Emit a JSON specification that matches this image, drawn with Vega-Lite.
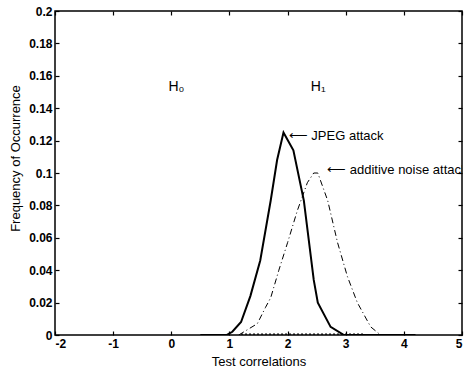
{
  "$schema": "https://vega.github.io/schema/vega-lite/v6.json",
  "width": 407,
  "height": 324,
  "autosize": "none",
  "padding": {"left": 55, "top": 11, "right": 9, "bottom": 41},
  "background": "white",
  "config": {
    "view": {"stroke": "black", "strokeWidth": 1.5},
    "font": "Liberation Sans",
    "axis": {
      "grid": false,
      "domain": false,
      "tickColor": "black",
      "tickSize": 4,
      "tickWidth": 1.2,
      "offset": -4,
      "labelOverlap": false,
      "labelColor": "black",
      "labelFont": "Liberation Sans",
      "labelFontSize": 12,
      "labelFontWeight": "bold",
      "labelPadding": 3,
      "titleColor": "black",
      "titleFont": "Liberation Sans",
      "titleFontSize": 13,
      "titleFontWeight": "normal"
    }
  },
  "resolve": {"axis": {"x": "independent", "y": "independent"}},
  "datasets": {
    "curves": [
      {"series": "jpeg", "x": 0.5, "y": 0},
      {"series": "jpeg", "x": 0.95, "y": 0},
      {"series": "jpeg", "x": 1.05, "y": 0.002},
      {"series": "jpeg", "x": 1.2, "y": 0.008},
      {"series": "jpeg", "x": 1.36, "y": 0.024},
      {"series": "jpeg", "x": 1.53, "y": 0.046},
      {"series": "jpeg", "x": 1.71, "y": 0.083},
      {"series": "jpeg", "x": 1.82, "y": 0.108},
      {"series": "jpeg", "x": 1.93, "y": 0.125},
      {"series": "jpeg", "x": 2.1, "y": 0.114},
      {"series": "jpeg", "x": 2.28, "y": 0.083},
      {"series": "jpeg", "x": 2.45, "y": 0.034},
      {"series": "jpeg", "x": 2.52, "y": 0.02},
      {"series": "jpeg", "x": 2.74, "y": 0.005},
      {"series": "jpeg", "x": 2.97, "y": 0},
      {"series": "jpeg", "x": 4.2, "y": 0},
      {"series": "noise", "x": 1.16, "y": 0},
      {"series": "noise", "x": 1.48, "y": 0.007},
      {"series": "noise", "x": 1.62, "y": 0.017},
      {"series": "noise", "x": 1.71, "y": 0.023},
      {"series": "noise", "x": 1.85, "y": 0.04},
      {"series": "noise", "x": 2.0, "y": 0.057},
      {"series": "noise", "x": 2.17, "y": 0.077},
      {"series": "noise", "x": 2.34, "y": 0.094},
      {"series": "noise", "x": 2.45, "y": 0.1},
      {"series": "noise", "x": 2.52, "y": 0.1},
      {"series": "noise", "x": 2.69, "y": 0.083},
      {"series": "noise", "x": 2.86, "y": 0.057},
      {"series": "noise", "x": 3.03, "y": 0.036},
      {"series": "noise", "x": 3.2, "y": 0.02},
      {"series": "noise", "x": 3.43, "y": 0.005},
      {"series": "noise", "x": 3.6, "y": 0},
      {"series": "base", "x": 1.2, "y": 0.0005},
      {"series": "base", "x": 3.3, "y": 0.0005}
    ],
    "labels": [
      {"x": -0.05, "y": 0.153, "label": "H₀", "size": 14},
      {"x": 2.4, "y": 0.153, "label": "H₁", "size": 14},
      {"x": 2.02, "y": 0.123, "label": "⟵ JPEG attack", "size": 13},
      {"x": 2.68, "y": 0.102, "label": "⟵ additive noise attack", "size": 13}
    ]
  },
  "layer": [
    {
      "data": {"name": "curves"},
      "transform": [{"filter": "datum.series === 'jpeg'"}],
      "mark": {"type": "line", "color": "black", "strokeWidth": 2, "clip": true},
      "encoding": {
        "x": {
          "field": "x", "type": "quantitative",
          "scale": {"domain": [-2, 5], "nice": false, "zero": false},
          "axis": {"orient": "bottom", "values": [-2, -1, 0, 1, 2, 3, 4, 5], "labelExpr": "'' + datum.value", "title": "Test correlations", "titlePadding": 6}
        },
        "y": {
          "field": "y", "type": "quantitative",
          "scale": {"domain": [0, 0.2], "nice": false},
          "axis": {"orient": "left", "values": [0, 0.02, 0.04, 0.06, 0.08, 0.1, 0.12, 0.14, 0.16, 0.18, 0.2], "labelExpr": "'' + datum.value", "title": "Frequency of Occurrence", "titlePadding": 6, "titleY": 147}
        }
      }
    },
    {
      "data": {"name": "curves"},
      "transform": [{"filter": "datum.series === 'noise'"}],
      "mark": {"type": "line", "color": "black", "strokeWidth": 1, "strokeDash": [6, 3, 1, 3], "clip": true},
      "encoding": {
        "x": {
          "field": "x", "type": "quantitative",
          "axis": {"orient": "top", "values": [-2, -1, 0, 1, 2, 3, 4, 5], "labels": false, "title": null}
        },
        "y": {
          "field": "y", "type": "quantitative",
          "axis": {"orient": "right", "values": [0, 0.02, 0.04, 0.06, 0.08, 0.1, 0.12, 0.14, 0.16, 0.18, 0.2], "labels": false, "title": null}
        }
      }
    },
    {
      "data": {"name": "curves"},
      "transform": [{"filter": "datum.series === 'base'"}],
      "mark": {"type": "line", "color": "black", "strokeWidth": 1.2, "strokeDash": [2, 2], "clip": true},
      "encoding": {
        "x": {"field": "x", "type": "quantitative", "axis": null},
        "y": {"field": "y", "type": "quantitative", "axis": null}
      }
    },
    {
      "data": {"name": "labels"},
      "mark": {"type": "text", "align": "left", "baseline": "middle", "color": "black", "font": "Liberation Sans", "clip": true},
      "encoding": {
        "x": {"field": "x", "type": "quantitative", "axis": null},
        "y": {"field": "y", "type": "quantitative", "axis": null},
        "text": {"field": "label"},
        "size": {"field": "size", "type": "quantitative", "scale": null}
      }
    }
  ]
}
